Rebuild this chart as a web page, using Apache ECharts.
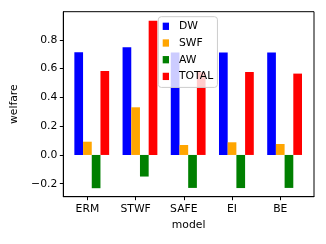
<!DOCTYPE html>
<html><head><meta charset="utf-8">
<script src="https://cdn.jsdelivr.net/npm/echarts@6/dist/echarts.min.js"></script>
<style>html,body{margin:0;padding:0;background:#fff}#c{width:326px;height:244px}</style>
</head><body><div id="c"></div>
<script>
const categories = ['ERM', 'STWF', 'SAFE', 'EI', 'BE'];
const dw    = [0.713, 0.748, 0.712, 0.711, 0.711];
const swf   = [0.092, 0.331, 0.069, 0.088, 0.076];
const aw    = [-0.231, -0.150, -0.229, -0.230, -0.229];
const total = [0.583, 0.933, 0.575, 0.576, 0.565];
const yTicks = [-0.2, 0.0, 0.2, 0.4, 0.6, 0.8];
const xTicks = [0, 1, 2, 3, 4];

const font = 'DejaVu Sans';
const fs = 10.8;
const pts = arr => arr.map((v, i) => [i, v]);
const mk = (name, color, arr) => ({
  name, type: 'bar', data: pts(arr), barWidth: 8.7, barGap: '0%',
  itemStyle: { color }, z: 2
});

const chart = echarts.init(document.getElementById('c'), null, { renderer: 'canvas' });
chart.setOption({
  animation: false,
  textStyle: { fontFamily: font },
  grid: { left: 63.3, right: 12, top: 11.7, bottom: 47.3, show: true, borderColor: '#000', borderWidth: 1, backgroundColor: 'transparent' },
  legend: {
    data: ['DW', 'SWF', 'AW', 'TOTAL'],
    orient: 'vertical', left: 158.3, top: 16.7,
    itemWidth: 6.3, itemHeight: 7.3, itemGap: 4.7, icon: 'rect',
    padding: [3.6, 4.2, 5, 4.4],
    backgroundColor: 'rgba(255,255,255,0.8)', borderColor: '#cccccc', borderWidth: 1, borderRadius: 3,
    textStyle: { fontFamily: font, fontSize: fs, color: '#000', lineHeight: 12, padding: [0, 0, 0, 5] },
    z: 10
  },
  xAxis: {
    type: 'value', min: -0.5, max: 4.7,
    name: 'model', nameLocation: 'middle', nameGap: 22,
    nameTextStyle: { fontFamily: font, fontSize: fs, color: '#000' },
    axisLine: { show: true, onZero: false, lineStyle: { color: '#000', width: 1 } },
    axisTick: { show: true, customValues: xTicks, length: 3.5, lineStyle: { color: '#000' } },
    axisLabel: { customValues: xTicks, formatter: v => categories[v], fontFamily: font, fontSize: fs, color: '#000', margin: 7 },
    splitLine: { show: false }
  },
  yAxis: {
    type: 'value', min: -0.29, max: 0.995,
    name: 'welfare', nameLocation: 'middle', nameGap: 32,
    nameTextStyle: { fontFamily: font, fontSize: fs, color: '#000' },
    axisLine: { show: true, onZero: false, lineStyle: { color: '#000', width: 1 } },
    axisTick: { show: true, customValues: yTicks, length: 3.5, lineStyle: { color: '#000' } },
    axisLabel: { customValues: yTicks, formatter: v => v.toFixed(1).replace('-', '\u2212'), fontFamily: font, fontSize: fs, color: '#000', margin: 6 },
    splitLine: { show: false }
  },
  series: [
    { name: '_pad', type: 'bar', data: pts(categories.map(() => '-')), barWidth: 8.7, barGap: '0%' },
    mk('DW', '#0000ff', dw),
    mk('SWF', '#ffa500', swf),
    mk('AW', '#008000', aw),
    mk('TOTAL', '#ff0000', total)
  ]
});
</script></body></html>
